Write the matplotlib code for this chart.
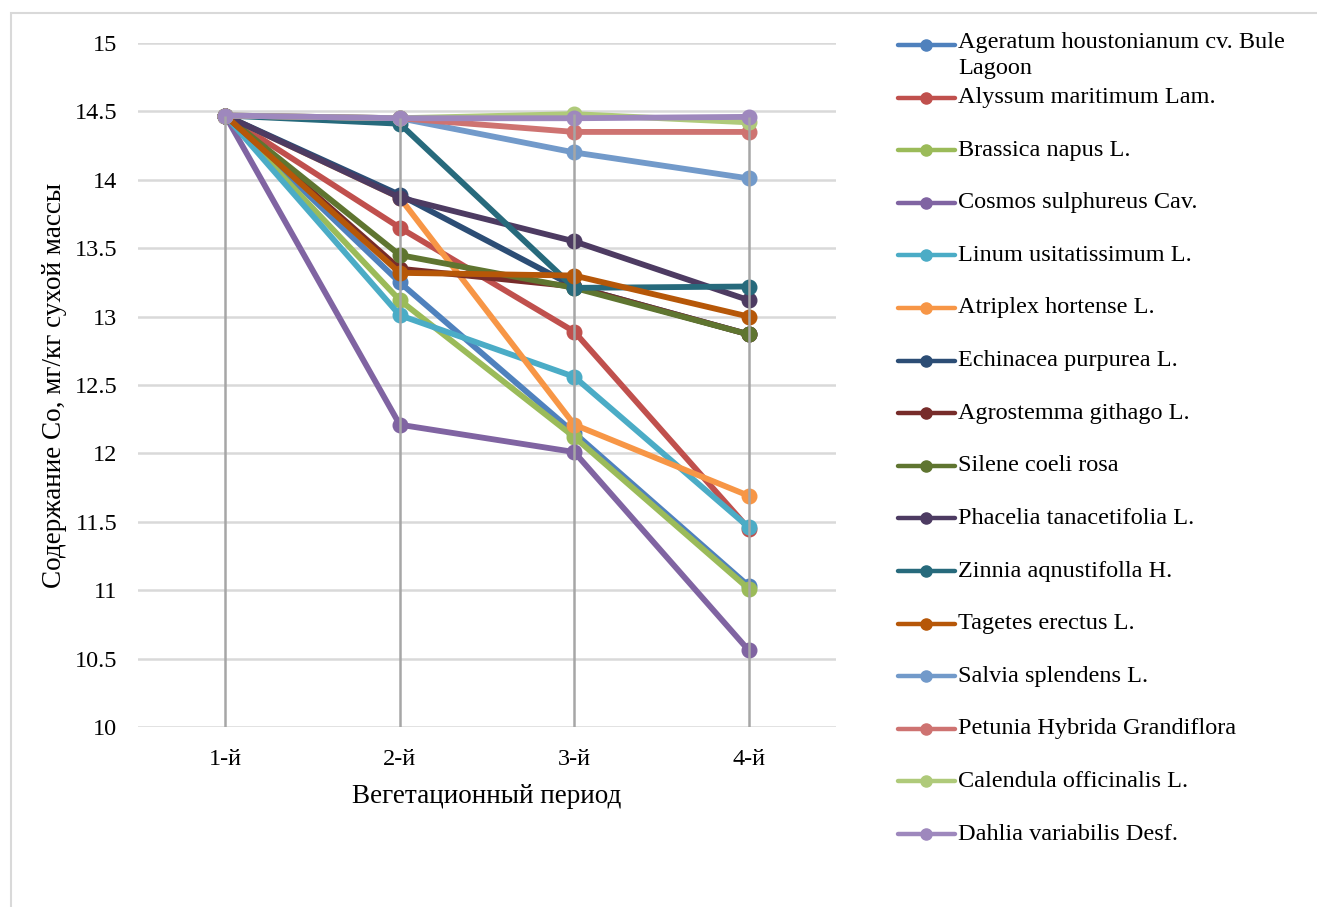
import matplotlib
matplotlib.use("Agg")
import matplotlib.pyplot as plt
from matplotlib.lines import Line2D
from matplotlib.patches import Rectangle

plt.rcParams['font.family'] = ['Liberation Serif', 'DejaVu Serif']

periods = ["1-й", "2-й", "3-й", "4-й"]

species = [
    "Ageratum houstonianum cv. Bule\nLagoon",
    "Alyssum maritimum Lam.",
    "Brassica napus L.",
    "Cosmos sulphureus Cav.",
    "Linum usitatissimum L.",
    "Atriplex hortense L.",
    "Echinacea purpurea L.",
    "Agrostemma githago L.",
    "Silene coeli rosa",
    "Phacelia tanacetifolia L.",
    "Zinnia aqnustifolla H.",
    "Tagetes erectus L.",
    "Salvia splendens L.",
    "Petunia Hybrida Grandiflora",
    "Calendula officinalis L.",
    "Dahlia variabilis Desf.",
]

ageratum = [14.47, 13.25, 12.15, 11.03]
alyssum = [14.47, 13.65, 12.89, 11.45]
brassica = [14.47, 13.12, 12.12, 11.01]
cosmos = [14.47, 12.21, 12.01, 10.56]
linum = [14.47, 13.01, 12.56, 11.46]
atriplex = [14.47, 13.87, 12.21, 11.69]
echinacea = [14.47, 13.89, 13.22, 12.87]
agrostemma = [14.47, 13.35, 13.22, 12.87]
silene = [14.47, 13.45, 13.21, 12.87]
phacelia = [14.47, 13.87, 13.55, 13.12]
zinnia = [14.47, 14.41, 13.21, 13.22]
tagetes = [14.47, 13.32, 13.30, 13.00]
salvia = [14.47, 14.45, 14.20, 14.01]
petunia = [14.47, 14.45, 14.35, 14.35]
calendula = [14.47, 14.45, 14.48, 14.42]
dahlia = [14.47, 14.45, 14.45, 14.46]

series = [ageratum, alyssum, brassica, cosmos, linum, atriplex, echinacea,
          agrostemma, silene, phacelia, zinnia, tagetes, salvia, petunia,
          calendula, dahlia]

colors = ["#4F81BD", "#C0504D", "#9BBB59", "#8064A2", "#4BACC6", "#F79646",
          "#2C4D75", "#772C2A", "#5F7530", "#4D3B62", "#276A7C", "#B65708",
          "#729ACA", "#CE7371", "#AFCA7A", "#9E88BD"]

W, H = 1317, 907
fig = plt.figure(figsize=(W / 100, H / 100), dpi=100)
ax = fig.add_axes([138 / W, 1 - 727 / H, (836 - 138) / W, (727 - 43) / H])

x = list(range(len(periods)))
for vals, c in zip(series, colors):
    ax.plot(x, vals, color=c, lw=4.2, marker='o', ms=10.5, zorder=3,
            solid_capstyle='round')

# drop lines from the highest point of each period
for i in x:
    top = max(s[i] for s in series)
    ax.vlines(i, 10, top, color="#A6A6A6", lw=1.8, zorder=4)

ax.set_xlim(-0.5, 3.5)
ax.set_ylim(10, 15)
ax.set_yticks([10, 10.5, 11, 11.5, 12, 12.5, 13, 13.5, 14, 14.5, 15])
ax.set_yticklabels(["10", "10.5", "11", "11.5", "12", "12.5", "13", "13.5",
                    "14", "14.5", "15"])
ax.set_xticks(x)
ax.set_xticklabels(periods)
for lab in ax.get_xticklabels() + ax.get_yticklabels():
    lab.set_fontfamily(['Liberation Serif', 'DejaVu Serif'])
    lab.set_fontsize(17.5)
ax.yaxis.grid(True, color="#D9D9D9", lw=1.8)
ax.set_axisbelow(True)
for s in ax.spines.values():
    s.set_visible(False)
ax.tick_params(axis='both', length=0)
ax.tick_params(axis='y', pad=15)
ax.tick_params(axis='x', pad=16)
ax.set_xlabel("Вегетационный период", fontsize=19.5, labelpad=10)
ax.set_ylabel("Содержание Со, мг/кг сухой массы", fontsize=19.5, labelpad=5)

# legend drawn by hand to keep the Excel layout
for i, (name, c) in enumerate(zip(species, colors)):
    yy = 1 - (45 + 52.6 * i) / H
    fig.add_artist(Line2D([898 / W, 955 / W], [yy, yy], color=c, lw=3.2,
                          solid_capstyle='round', transform=fig.transFigure))
    fig.add_artist(Line2D([926.5 / W], [yy], color=c, marker='o', ms=8,
                          transform=fig.transFigure))
    if "\n" in name:
        fig.text(958 / W, yy + 13 / H, name, fontsize=17.5, va='top', ha='left',
                 linespacing=1.3)
    else:
        fig.text(958 / W, yy, name, fontsize=17.5, va='center', ha='left')

fig.add_artist(Rectangle((11 / W, -0.1), 2, 1.1 - 13 / H, fill=False,
                         edgecolor="#D9D9D9", lw=1.5, transform=fig.transFigure))

fig.savefig("out.png", dpi=100)
